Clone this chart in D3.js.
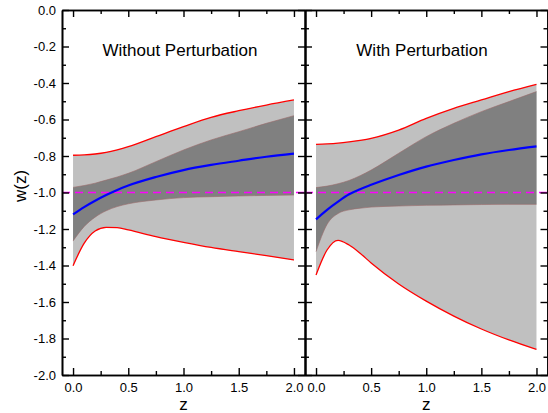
<!DOCTYPE html>
<html><head><meta charset="utf-8">
<script src="https://cdn.jsdelivr.net/npm/d3@7"></script>
<style>
html,body{margin:0;padding:0;background:#fff;}
svg{display:block;font-family:"Liberation Sans",Arial,sans-serif;}
</style></head>
<body>
<svg id="chart" width="548" height="413"></svg>
<script>
// ---- data ----
const zGrid = [0, 0.1, 0.2, 0.3, 0.4, 0.5, 0.75, 1.0, 1.25, 1.5, 1.75, 2.0];
const panelTitles = ["Without Perturbation", "With Perturbation"];
const xTickValues = [0, 0.5, 1.0, 1.5, 2.0];
const xTickLabels = ["0.0", "0.5", "1.0", "1.5", "2.0"];
const yTickValues = [0, -0.2, -0.4, -0.6, -0.8, -1.0, -1.2, -1.4, -1.6, -1.8, -2.0];
const yTickLabels = ["0.0", "-0.2", "-0.4", "-0.6", "-0.8", "-1.0", "-1.2", "-1.4", "-1.6", "-1.8", "-2.0"];
const refLine = -1.0;

// Without perturbation
const noPertOuterUpper = [-0.796, -0.794, -0.789, -0.780, -0.766, -0.749, -0.694, -0.639, -0.588, -0.552, -0.521, -0.493];
const noPertInnerUpper = [-0.972, -0.962, -0.949, -0.932, -0.915, -0.895, -0.831, -0.767, -0.712, -0.667, -0.621, -0.579];
const noPertMean       = [-1.120, -1.080, -1.045, -1.014, -0.986, -0.962, -0.915, -0.877, -0.849, -0.826, -0.804, -0.787];
const noPertInnerLower = [-1.266, -1.187, -1.135, -1.100, -1.077, -1.062, -1.041, -1.028, -1.023, -1.019, -1.016, -1.014];
const noPertOuterLower = [-1.401, -1.279, -1.211, -1.191, -1.193, -1.205, -1.242, -1.273, -1.301, -1.324, -1.346, -1.370];

// With perturbation
const pertOuterUpper = [-0.736, -0.734, -0.730, -0.723, -0.714, -0.703, -0.658, -0.594, -0.539, -0.493, -0.447, -0.407];
const pertInnerUpper = [-0.973, -0.965, -0.952, -0.934, -0.908, -0.877, -0.785, -0.694, -0.621, -0.557, -0.502, -0.447];
const pertMean       = [-1.147, -1.095, -1.050, -1.010, -0.982, -0.958, -0.904, -0.858, -0.822, -0.791, -0.767, -0.747];
const pertInnerLower = [-1.324, -1.175, -1.115, -1.095, -1.086, -1.080, -1.074, -1.070, -1.068, -1.066, -1.065, -1.065];
const pertOuterLower = [-1.452, -1.315, -1.262, -1.288, -1.333, -1.386, -1.501, -1.595, -1.677, -1.748, -1.808, -1.860];

const panels = [
  {title: panelTitles[0], ou: noPertOuterUpper, iu: noPertInnerUpper, m: noPertMean, il: noPertInnerLower, ol: noPertOuterLower},
  {title: panelTitles[1], ou: pertOuterUpper, iu: pertInnerUpper, m: pertMean, il: pertInnerLower, ol: pertOuterLower}
];

// ---- layout ----
const svg = d3.select("#chart");
const topY = 10, bottomY = 375;
const panelX = [[62, 305], [305, 547.5]];
const y = d3.scaleLinear().domain([-2, 0]).range([bottomY, topY]);
const curve = d3.curveMonotoneX;

panels.forEach((p, i) => {
  const x = d3.scaleLinear().domain([-0.1, 2.1]).range(panelX[i]);
  const g = svg.append("g");

  const band = (lo, hi) => d3.area().curve(curve)
      .x((d, k) => x(zGrid[k])).y0((d, k) => y(lo[k])).y1((d, k) => y(hi[k]));
  const line = arr => d3.line().curve(curve).x((d, k) => x(zGrid[k])).y((d, k) => y(arr[k]));

  g.append("path").attr("d", band(p.ol, p.ou)(zGrid)).attr("fill", "#c0c0c0");
  g.append("path").attr("d", band(p.il, p.iu)(zGrid)).attr("fill", "#808080");
  g.append("path").attr("d", line(p.iu)(zGrid)).attr("fill", "none").attr("stroke", "#9a6a6a").attr("stroke-width", 0.6);
  g.append("path").attr("d", line(p.il)(zGrid)).attr("fill", "none").attr("stroke", "#9a6a6a").attr("stroke-width", 0.6);
  g.append("path").attr("d", line(p.ou)(zGrid)).attr("fill", "none").attr("stroke", "#ff0000").attr("stroke-width", 1.3);
  g.append("path").attr("d", line(p.ol)(zGrid)).attr("fill", "none").attr("stroke", "#ff0000").attr("stroke-width", 1.3);

  // reference line w = -1
  g.append("line").attr("x1", panelX[i][0]).attr("x2", panelX[i][1])
    .attr("y1", y(refLine)).attr("y2", y(refLine))
    .attr("stroke", "#ff00ff").attr("stroke-width", 1.6).attr("stroke-dasharray", "8,5");

  g.append("path").attr("d", line(p.m)(zGrid)).attr("fill", "none").attr("stroke", "#0000ff").attr("stroke-width", 2.2);

  // axes
  const minorX = [0.25, 0.75, 1.25, 1.75];
  const minorY = [-0.1, -0.3, -0.5, -0.7, -0.9, -1.1, -1.3, -1.5, -1.7, -1.9];
  const styleAxis = a => {
    a.selectAll(".domain").attr("stroke", "#000").attr("stroke-width", 1.6);
    a.selectAll(".tick line").attr("stroke", "#000").attr("stroke-width", 1.4);
    a.selectAll("text").attr("font-size", 13).attr("fill", "#000").attr("font-family", "Liberation Sans, Arial, sans-serif");
  };

  const bAx = g.append("g").attr("transform", `translate(0,${bottomY})`)
    .call(d3.axisBottom(x).tickValues(xTickValues).tickFormat((d, k) => xTickLabels[k]).tickSizeInner(-7).tickSizeOuter(0).tickPadding(8));
  styleAxis(bAx);
  const bMin = g.append("g").attr("transform", `translate(0,${bottomY})`)
    .call(d3.axisBottom(x).tickValues(minorX).tickFormat("").tickSizeInner(-4).tickSizeOuter(0));
  styleAxis(bMin);

  const tAx = g.append("g").attr("transform", `translate(0,${topY})`)
    .call(d3.axisTop(x).tickValues(xTickValues).tickFormat("").tickSizeInner(-7).tickSizeOuter(0));
  styleAxis(tAx);
  const tMin = g.append("g").attr("transform", `translate(0,${topY})`)
    .call(d3.axisTop(x).tickValues(minorX).tickFormat("").tickSizeInner(-4).tickSizeOuter(0));
  styleAxis(tMin);

  const lAx = g.append("g").attr("transform", `translate(${panelX[i][0]},0)`)
    .call(d3.axisLeft(y).tickValues(yTickValues).tickFormat((d, k) => i === 0 ? yTickLabels[k] : "").tickSizeInner(-7).tickSizeOuter(0).tickPadding(6));
  styleAxis(lAx);
  const lMin = g.append("g").attr("transform", `translate(${panelX[i][0]},0)`)
    .call(d3.axisLeft(y).tickValues(minorY).tickFormat("").tickSizeInner(-4).tickSizeOuter(0));
  styleAxis(lMin);

  const rAx = g.append("g").attr("transform", `translate(${panelX[i][1]},0)`)
    .call(d3.axisRight(y).tickValues(yTickValues).tickFormat("").tickSizeInner(-7).tickSizeOuter(0));
  styleAxis(rAx);
  const rMin = g.append("g").attr("transform", `translate(${panelX[i][1]},0)`)
    .call(d3.axisRight(y).tickValues(minorY).tickFormat("").tickSizeInner(-4).tickSizeOuter(0));
  styleAxis(rMin);

  // panel title
  svg.append("text").attr("x", i === 0 ? 180 : 422).attr("y", 56)
    .attr("text-anchor", "middle").attr("font-size", 17).text(p.title);

  // x label
  svg.append("text").attr("x", x(1.0)).attr("y", 410)
    .attr("text-anchor", "middle").attr("font-size", 17).text("z");
});

// y label
svg.append("text").attr("transform", "translate(26,186) rotate(-90)")
  .attr("text-anchor", "middle").attr("font-size", 17).text("w(z)");
</script>
</body></html>
